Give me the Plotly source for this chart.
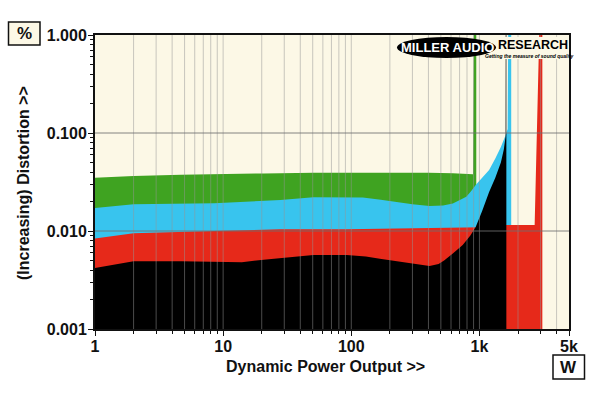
import plotly.graph_objects as go

# ---------------- data ----------------
BASE = 1e-4  # fill baseline, below the visible range

green_w = [1, 2, 4.7, 8.5, 20.7, 50.6, 92, 167, 400, 620, 891, 905, 945]
green_d = [0.035, 0.0365, 0.0375, 0.0382, 0.0387, 0.0392, 0.0393, 0.0393, 0.0392, 0.0388, 0.038, 1.5, 1.5]

blue_w = [1, 2, 8.5, 28, 50.6, 92, 123, 170, 225, 300, 408, 520, 620, 700, 790, 860, 935, 1050, 1190,
          1330, 1470, 1600, 1660, 1680, 1770]
blue_d = [0.0172, 0.0187, 0.0192, 0.0207, 0.0221, 0.0222, 0.022, 0.0208, 0.0196, 0.0187, 0.018, 0.0182,
          0.0191, 0.0205, 0.0224, 0.0255, 0.0295, 0.035, 0.042, 0.055, 0.072, 0.095, 0.11, 1.5, 1.5]

red_w = [1, 2, 8.5, 28, 92, 167, 400, 900, 1400, 1622, 2697, 2950, 3097]
red_d = [0.0084, 0.0095, 0.0100, 0.0104, 0.0104, 0.0105, 0.0106, 0.0108, 0.011, 0.0115, 0.0115, 1.5, 1.5]

black_w = [1, 2, 4.7, 8.5, 14, 20.7, 50.6, 92, 130, 167, 225, 300, 408, 480, 530, 620, 740, 850, 935,
           1050, 1190, 1330, 1470, 1550, 1600, 1605, 1622]
black_d = [0.0042, 0.0049, 0.0049, 0.0048, 0.0048, 0.0051, 0.0057, 0.0057, 0.0055, 0.0052, 0.0049,
           0.0046, 0.0044, 0.0046, 0.005, 0.0059, 0.0072, 0.009, 0.011, 0.016, 0.025, 0.035, 0.05,
           0.068, 0.092, 1.5, 1.5]

y_tickvals = [0.001, 0.01, 0.1, 1]
y_ticktext = ["0.001", "0.010", "0.100", "1.000"]
x_tickvals = [1, 10, 100, 1000, 5000]
x_ticktext = ["1", "10", "100", "1k", "5k"]

x_minor = [m * d for d in (1, 10, 100) for m in range(2, 10)] + [2000, 3000, 4000]
y_minor = [m * d for d in (0.001, 0.01, 0.1) for m in range(2, 10)]
x_grid = x_minor + [10, 100, 1000]
y_grid = [0.01, 0.1]

series = [
    (green_w, green_d, "#3fa321"),
    (blue_w, blue_d, "#38c4ee"),
    (red_w, red_d, "#e6291a"),
    (black_w, black_d, "#000000"),
]

# ---------------- figure ----------------
W, H = 600, 393
ML, MR, MT, MB = 95, 31, 35, 64
PW, PH = W - ML - MR, H - MT - MB


def px(X):
    return (X - ML) / PW


def py(Y):
    return 1 - (Y - MT) / PH


fig = go.Figure()
for xs, ys, col in series:
    fig.add_trace(go.Scatter(
        x=xs + [xs[-1], xs[0]],
        y=ys + [BASE, BASE],
        fill="toself", fillcolor=col, mode="lines",
        line=dict(width=0, color=col), hoverinfo="skip", showlegend=False,
    ))

shapes = []
for g in x_grid:
    shapes.append(dict(type="line", xref="x", yref="paper", x0=g, x1=g, y0=0, y1=1,
                       line=dict(color="rgba(150,150,150,0.5)", width=1), layer="above"))
for g in y_grid:
    shapes.append(dict(type="line", xref="paper", yref="y", x0=0, x1=1, y0=g, y1=g,
                       line=dict(color="rgba(110,110,110,0.85)", width=1), layer="above"))

# logo
shapes.append(dict(type="rect", xref="paper", yref="paper", x0=px(488), x1=px(568.5), y0=py(59), y1=py(37),
                   fillcolor="#fcf8e6", line=dict(width=0), layer="above"))
shapes.append(dict(type="circle", xref="paper", yref="paper", x0=px(397), x1=px(496), y0=py(58), y1=py(37),
                   fillcolor="#000000", line=dict(width=0), layer="above"))
# unit boxes
shapes.append(dict(type="rect", xref="paper", yref="paper", x0=px(8.5), x1=px(40), y0=py(45), y1=py(22),
                   fillcolor="#fcf8e6", line=dict(color="#111", width=1.5), layer="above"))
shapes.append(dict(type="rect", xref="paper", yref="paper", x0=px(553), x1=px(584.5), y0=py(379), y1=py(355),
                   fillcolor="#ffffff", line=dict(color="#111", width=1.5), layer="above"))

FONT = "Liberation Sans, Arial, sans-serif"
ann = [
    dict(x=px(24.5), y=py(33.5), text="%", font=dict(size=17, family=FONT, color="#111", weight="bold")),
    dict(x=px(568.7), y=py(367), text="W", font=dict(size=17, family=FONT, color="#111", weight="bold")),
    dict(x=px(325), y=py(366), text="Dynamic Power Output >>",
         font=dict(size=16, family=FONT, color="#111", weight="bold")),
    dict(x=px(23), y=py(183), text="(Increasing) Distortion >>", textangle=-90,
         font=dict(size=16, family=FONT, color="#111", weight="bold")),
    dict(x=px(447.5), y=py(47), text="MILLER AUDIO",
         font=dict(size=13, family=FONT, color="#ffffff", weight="bold")),
    dict(x=px(532.5), y=py(45.5), text="RESEARCH",
         font=dict(size=12.5, family=FONT, color="#000000", weight="bold")),
    dict(x=px(529), y=py(55.5), text="<i>Getting the measure of sound quality</i>",
         font=dict(size=5, family=FONT, color="#000000", weight="bold")),
]
for a in ann:
    a.update(xref="paper", yref="paper", showarrow=False, xanchor="center", yanchor="middle")

fig.update_layout(
    width=W, height=H,
    margin=dict(l=ML, r=MR, t=MT, b=MB),
    paper_bgcolor="#ffffff", plot_bgcolor="#fcf8e6",
    shapes=shapes, annotations=ann, showlegend=False,
    xaxis=dict(type="log", range=[0, 3.69897], showgrid=False, zeroline=False,
               tickmode="array", tickvals=x_tickvals, ticktext=x_ticktext,
               ticks="outside", ticklen=5, tickwidth=1, tickcolor="#111",
               minor=dict(tickmode="array", tickvals=x_minor, ticks="outside", ticklen=3,
                          tickcolor="#111", showgrid=False),
               ticklabelstandoff=-3,
               showline=True, mirror=True, linewidth=2, linecolor="#111",
               tickfont=dict(size=16, family=FONT, color="#111", weight="bold"), layer="above traces"),
    yaxis=dict(type="log", range=[-3, 0], showgrid=False, zeroline=False,
               tickmode="array", tickvals=y_tickvals, ticktext=y_ticktext,
               ticks="outside", ticklen=5, tickwidth=1, tickcolor="#111",
               minor=dict(tickmode="array", tickvals=y_minor, ticks="outside", ticklen=3,
                          tickcolor="#111", showgrid=False),
               ticklabelstandoff=-2,
               showline=True, mirror=True, linewidth=2, linecolor="#111",
               tickfont=dict(size=16, family=FONT, color="#111", weight="bold"), layer="above traces"),
)

fig.write_html("out.html", config={"displayModeBar": False},
               post_script="document.body.style.margin='0';")
